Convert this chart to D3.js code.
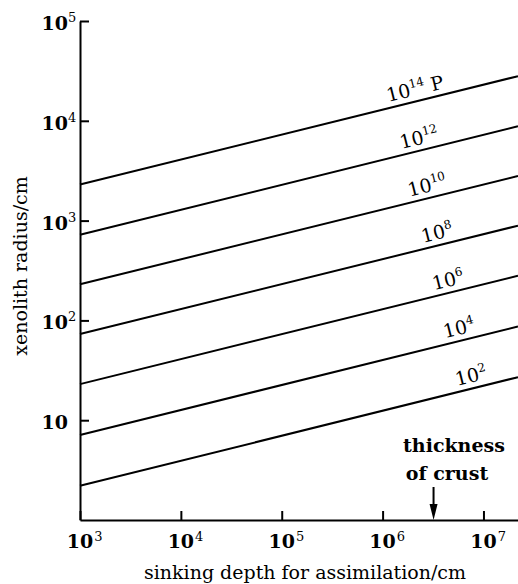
<!DOCTYPE html>
<html>
<head>
<meta charset="utf-8">
<script src="https://cdn.jsdelivr.net/npm/d3@7"></script>
<style>
  body { margin: 0; background: #fff; }
  svg { display: block; }
  text { font-family: "DejaVu Serif", serif; fill: #000; }
</style>
</head>
<body>
<svg id="chart"></svg>
<script>
// viscosity of each line (exponent of 10, poise)
const viscosityExp = [2, 4, 6, 8, 10, 12, 14];
// xenolith radius (cm) at the left end (depth 1e3 cm) and right end of each line
const radiusStart = [2.2, 7.1, 23, 73, 230, 720, 2300];
const radiusEnd = [27, 87, 280, 890, 2800, 8800, 28000];
const depthStart = 1e3;
const depthEnd = 2.2e7;
// tick labels (exponents)
const xTickExp = [3, 4, 5, 6, 7];
const yTickExp = [1, 2, 3, 4, 5];
// thickness of crust, cm
const crustDepth = 3.2e6;

const W = 518, H = 584;
const margin = { top: 21, right: 0, bottom: 64, left: 80 };

const svg = d3.select('#chart').attr('width', W).attr('height', H);

const x = d3.scaleLog().domain([depthStart, depthEnd]).range([margin.left, W - margin.right]);
const y = d3.scaleLog().domain([1, 1e5]).range([H - margin.bottom, margin.top]);

// axes
const xAxis = svg.append('g')
  .attr('transform', `translate(0,${H - margin.bottom})`)
  .call(d3.axisBottom(x).tickValues(xTickExp.map(e => Math.pow(10, e)))
    .tickSize(-9).tickSizeOuter(0).tickFormat(''));
const yAxis = svg.append('g')
  .attr('transform', `translate(${margin.left},0)`)
  .call(d3.axisLeft(y).tickValues(yTickExp.map(e => Math.pow(10, e)))
    .tickSize(-9).tickSizeOuter(0).tickFormat(''));
[xAxis, yAxis].forEach(a => {
  a.select('.domain').attr('stroke', '#000').attr('stroke-width', 2);
  a.selectAll('.tick line').attr('stroke', '#000').attr('stroke-width', 2);
});

// y tick labels: base "10" right aligned, exponent hanging to the right
yTickExp.forEach(e => {
  const ty = y(Math.pow(10, e)) + 9;
  svg.append('text')
    .attr('x', 68).attr('y', ty)
    .attr('text-anchor', 'end')
    .attr('font-size', 19).attr('font-weight', 'bold')
    .text('10');
  if (e !== 1) {
    svg.append('text')
      .attr('x', 68).attr('y', ty - 8)
      .attr('font-size', 13)
      .text(e);
  }
});

// x tick labels: base "10" centred on the tick
xTickExp.forEach(e => {
  const tx = x(Math.pow(10, e));
  const base = svg.append('text')
    .attr('x', tx).attr('y', 548)
    .attr('text-anchor', 'middle')
    .attr('font-size', 19).attr('font-weight', 'bold')
    .text('10');
  const bw = base.node().getComputedTextLength();
  svg.append('text')
    .attr('x', tx + bw / 2 + 1).attr('y', 541)
    .attr('font-size', 13)
    .text(e);
});

// lines
const lines = viscosityExp.map((v, i) => ({
  v, r0: radiusStart[i], r1: radiusEnd[i],
}));
svg.append('g').selectAll('line')
  .data(lines)
  .join('line')
  .attr('x1', x(depthStart)).attr('y1', d => y(d.r0))
  .attr('x2', x(depthEnd)).attr('y2', d => y(d.r1))
  .attr('stroke', '#000').attr('stroke-width', 2);

// line labels, set along each line
const labelCx = [474, 462, 451, 440, 430, 422, 418];
lines.forEach((d, i) => {
  const x0 = x(depthStart), x1 = x(depthEnd);
  const y0 = y(d.r0), y1 = y(d.r1);
  const cx = labelCx[i];
  const cy = y0 + (y1 - y0) * (cx - x0) / (x1 - x0);
  const ang = Math.atan2(y1 - y0, x1 - x0) * 180 / Math.PI;
  const t = svg.append('text')
    .attr('transform', `translate(${cx},${cy}) rotate(${ang}) translate(0,-6)`)
    .attr('text-anchor', 'middle')
    .attr('font-size', 19);
  t.append('tspan').text('10');
  t.append('tspan').attr('dy', -8).attr('font-size', 12).text(d.v);
  if (d.v === 14) t.append('tspan').attr('dy', 8).text(' P');
});

// crust thickness marker
const ax = x(crustDepth);
const ay = H - margin.bottom;
svg.append('line')
  .attr('x1', ax).attr('x2', ax).attr('y1', ay - 33).attr('y2', ay - 10)
  .attr('stroke', '#000').attr('stroke-width', 2);
svg.append('path')
  .attr('d', `M${ax - 4},${ay - 16}L${ax + 4},${ay - 16}L${ax},${ay}Z`)
  .attr('fill', '#000');
svg.append('text')
  .attr('x', 454).attr('y', 452)
  .attr('text-anchor', 'middle')
  .attr('font-size', 19).attr('font-weight', 'bold')
  .text('thickness');
svg.append('text')
  .attr('x', 447).attr('y', 480)
  .attr('text-anchor', 'middle')
  .attr('font-size', 19).attr('font-weight', 'bold')
  .text('of crust');

// axis titles
svg.append('text')
  .attr('x', 305).attr('y', 579)
  .attr('text-anchor', 'middle')
  .attr('font-size', 19)
  .text('sinking depth for assimilation/cm');
svg.append('text')
  .attr('transform', `translate(27,266) rotate(-90)`)
  .attr('text-anchor', 'middle')
  .attr('font-size', 19)
  .text('xenolith radius/cm');
</script>
</body>
</html>
